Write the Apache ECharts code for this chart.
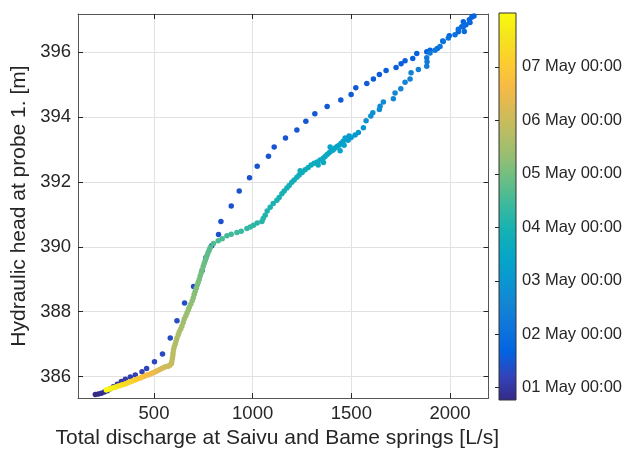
<!DOCTYPE html>
<html>
<head>
<meta charset="utf-8">
<script src="https://cdn.jsdelivr.net/npm/echarts@6/dist/echarts.min.js"></script>
<style>
  html, body { margin: 0; padding: 0; background: #ffffff; }
  #chart { width: 637px; height: 454px; }
</style>
</head>
<body>
<div id="chart"></div>
<script>
// Spring discharge [L/s], hydraulic head [m] and time [h after 01 May 00:00]
// Rising limb of the flood event
const risingQ = [202.9, 218.0, 233.2, 248.4, 263.6, 278.8, 294.0, 314.2, 334.5, 354.7, 380.0, 405.4, 439.3, 462.6, 502.6, 543.1,
  582.5, 616.5, 654.9, 700.5, 744.5, 763.3, 792.6, 827.1, 839.2, 891.4, 931.9, 984.0, 1023.0, 1080.2, 1109.1, 1166.3, 1224.0,
  1269.5, 1315.1, 1377.4, 1446.7, 1498.9, 1522.6, 1578.3, 1611.8, 1642.1, 1676.1, 1726.7, 1752.0, 1772.2, 1811.2, 1831.5,
  1882.1, 1898.8, 1935.8, 1963.1, 1996.5, 2042.1, 2059.3, 2067.4, 2097.8, 2109.9, 2121.5];
const risingH = [385.45, 385.47, 385.49, 385.53, 385.57, 385.63, 385.69, 385.77, 385.85, 385.92, 385.99, 386.05, 386.15, 386.25, 386.46, 386.70,
  387.19, 387.72, 388.27, 388.78, 389.27, 389.67, 390.03, 390.38, 390.78, 391.26, 391.72, 392.13, 392.48, 392.79, 393.07, 393.35, 393.60,
  393.87, 394.10, 394.32, 394.52, 394.69, 394.90, 395.03, 395.17, 395.31, 395.43, 395.52, 395.64, 395.73, 395.80, 395.95,
  396.01, 396.05, 396.11, 396.34, 396.50, 396.62, 396.78, 396.93, 396.99, 397.07, 397.11];
const risingT = [-5.5, -5, -4.5, -4, -3, -2, -1, 0, 1, 2, 3, 4, 5, 6, 6.5, 7,
  8, 8.25, 8.5, 8.75, 9, 9.25, 9.5, 9.75, 10, 10.25, 10.5, 10.75, 11, 11.25, 11.5, 11.75, 12,
  12.25, 12.5, 12.75, 13, 13.25, 13.5, 13.75, 14, 14.25, 14.5, 14.75, 15, 15.25, 15.5, 15.75,
  16, 16.25, 16.5, 16.75, 17, 17.25, 17.5, 17.75, 18, 18.25, 18.5];

// Recession limb, from the peak back to base flow
const recessionQ = [2101.3, 2081.0, 2067.4, 2072.4, 2042.1, 2025.4, 1991.4, 1966.1, 1949.4, 1924.1, 1898.8, 1882.1, 1883.6, 1882.1,
  1839.6, 1802.6, 1797.6, 1772.2, 1750.5, 1721.6, 1713.0, 1662.4, 1645.7, 1642.1, 1608.7, 1598.6, 1574.8, 1561.1, 1535.8, 1519.1,
  1498.9, 1477.1,
  1488.7, 1483.7, 1468.5, 1458.4, 1448.2, 1438.1, 1428.0, 1463.4, 1443.2, 1392.5,
  1417.9, 1407.7, 1397.6, 1387.5, 1377.4, 1367.2, 1357.1, 1358.6, 1341.9, 1326.7, 1331.8, 1311.5, 1296.4, 1281.2, 1266.0, 1250.8,
  1240.7, 1235.6, 1224.0, 1210.3, 1198.6, 1185.0, 1173.3, 1159.7, 1148.0, 1134.4, 1122.7, 1104.0, 1088.8, 1073.6, 1063.5, 1053.4,
  1046.8, 1023.0, 1004.3, 987.5, 970.8, 942.0, 920.2, 891.4, 869.6, 845.8, 825.5, 801.7,
  785.0, 780.0, 774.9, 769.9, 764.8, 759.7, 754.7, 749.6, 744.5, 739.5, 734.4, 729.4, 724.3, 719.2, 714.2, 709.1, 704.0, 699.0,
  693.9, 686.3, 678.7, 673.7, 667.1, 661.0, 653.4, 648.4, 641.8, 635.7, 628.1, 623.0, 616.5, 611.9, 607.9, 602.8, 599.2, 596.7,
  595.2, 592.7, 590.1,
  587.6, 580.0, 572.4, 562.3, 552.2, 542.0, 531.9, 521.8, 511.7, 501.5, 491.4, 481.3, 471.2, 461.0, 450.9, 440.8, 430.7, 420.5,
  410.4, 400.3, 390.2, 380.0, 369.9, 359.8, 349.7, 339.5, 329.4, 319.3, 309.2, 299.0, 288.9, 278.8, 268.7, 258.5];
const recessionH = [396.91, 396.84, 396.78, 396.63, 396.70, 396.53, 396.43, 396.32, 396.17, 396.05, 395.97, 395.82, 395.70, 395.56,
  395.46, 395.36, 395.17, 395.07, 394.87, 394.74, 394.56, 394.46, 394.33, 394.23, 394.13, 394.03, 393.88, 393.67, 393.52, 393.44,
  393.37, 393.32,
  393.41, 393.28, 393.35, 393.25, 393.19, 393.13, 393.09, 393.13, 392.96, 393.07,
  393.04, 392.98, 392.95, 392.90, 392.84, 392.78, 392.73, 392.60, 392.67, 392.61, 392.52, 392.57, 392.52, 392.44, 392.37, 392.29,
  392.34, 392.21, 392.14, 392.06, 391.99, 391.89, 391.81, 391.72, 391.63, 391.52, 391.43, 391.33, 391.22, 391.10, 390.97, 390.87,
  390.78, 390.73, 390.66, 390.61, 390.56, 390.48, 390.44, 390.39, 390.34, 390.25, 390.19, 390.10,
  389.98, 389.90, 389.83, 389.75, 389.67, 389.58, 389.49, 389.40, 389.29, 389.20, 389.11, 389.00, 388.91, 388.82, 388.72, 388.63, 388.54, 388.43,
  388.34, 388.23, 388.14, 388.05, 387.96, 387.87, 387.78, 387.67, 387.56, 387.47, 387.38, 387.29, 387.19, 387.10, 387.01, 386.92, 386.83, 386.73,
  386.64, 386.55, 386.46,
  386.40, 386.35, 386.32, 386.31, 386.29, 386.26, 386.23, 386.20, 386.17, 386.14, 386.11, 386.08, 386.06, 386.04, 386.01, 385.99, 385.96, 385.94,
  385.91, 385.89, 385.87, 385.84, 385.82, 385.79, 385.77, 385.75, 385.73, 385.71, 385.69, 385.67, 385.65, 385.63, 385.61, 385.59];
const recessionT = [19.5, 20.5, 21.5, 22.5, 23.5, 24.5, 25.5, 26.5, 27.5, 28.5, 29.5, 30.5, 31.5, 32.5,
  33.5, 34.5, 35.5, 36.5, 37.5, 38.5, 39.5, 40.5, 41.5, 42.5, 43.5, 44.5, 45.5, 46.5, 47.5, 48.5,
  49.5, 50.5,
  51.5, 52.5, 53.5, 54.5, 55.5, 56, 56.5, 57, 57.5, 58.5,
  59.5, 60, 60.5, 61, 61.5, 62, 62.5, 63, 63.5, 64, 64.2, 64.5, 65, 65.5, 66, 66.5,
  66.8, 67, 67.5, 68, 68.5, 69, 69.5, 70, 70.5, 71, 71.5, 72, 72.5, 73.5, 74.5, 75.5,
  76.5, 77.5, 78.5, 79.5, 80.5, 81.5, 82.5, 83.5, 84.5, 85.5, 86.5, 87.5,
  88.5, 89.3, 90, 90.8, 91.5, 92.3, 93, 93.8, 94.5, 95.3, 96, 96.8, 97.5, 98.3, 99, 99.8, 100.5, 101.3,
  102, 102.8, 103.5, 104.3, 105, 105.8, 106.5, 107.3, 108, 108.8, 109.5, 110.3, 111, 111.8, 112.5, 113.3, 114, 114.8,
  115.5, 116.3, 117,
  118, 119, 120, 121, 122, 123.5, 125, 126.5, 128, 129.5, 131, 132.5, 134, 135.5, 137, 138.5, 140, 141.5,
  143, 144.5, 146, 147.5, 149, 150.5, 152, 153.5, 155, 156.5, 158, 159.5, 161, 163, 165, 167];

// Axis ticks and colour-bar labels
const qTicks = [500, 1000, 1500, 2000];
const hTicks = [386, 388, 390, 392, 394, 396];
const dayTicks = [0, 24, 48, 72, 96, 120, 144];
const dayLabels = ['01 May 00:00', '02 May 00:00', '03 May 00:00', '04 May 00:00', '05 May 00:00', '06 May 00:00', '07 May 00:00'];
const timeRange = [-5.5, 168.2];

// parula colour map
const parula = ['#352a87', '#3243ba', '#0363e1', '#0d75dc', '#1485d4', '#0998d1', '#06a7c6', '#15b1b4', '#38b99e',
  '#65be86', '#92bf73', '#b7bd64', '#d9ba56', '#f8bb44', '#fcce2e', '#f5e41d', '#f9fb0e'];

const points = [];
risingQ.forEach((q, i) => points.push([q, risingH[i], risingT[i]]));
recessionQ.forEach((q, i) => points.push([q, recessionH[i], recessionT[i]]));

const FONT = "'Liberation Sans', Arial, Helvetica, sans-serif";
const INK = '#262626';
const FRAME = '#555555';

const chart = echarts.init(document.getElementById('chart'), null, { renderer: 'canvas' });

const gradientStops = parula.map((c, i) => ({ offset: i / (parula.length - 1), color: c }));

chart.setOption({
  animation: false,
  backgroundColor: '#ffffff',
  textStyle: { fontFamily: FONT },
  grid: [
    { left: 78, top: 14, width: 410.5, height: 386.5, show: false },
    { left: 499, top: 13, width: 17, height: 387, show: false }
  ],
  visualMap: {
    type: 'continuous',
    show: false,
    dimension: 2,
    seriesIndex: 0,
    min: timeRange[0],
    max: timeRange[1],
    inRange: { color: parula }
  },
  xAxis: [
    {
      gridIndex: 0, type: 'value', position: 'bottom', min: 115, max: 2195,
      axisLine: { show: true, onZero: false, lineStyle: { color: FRAME, width: 1 } },
      axisTick: { show: true, inside: true, length: 5, customValues: qTicks, lineStyle: { color: INK } },
      axisLabel: { customValues: qTicks, color: INK, fontSize: 18.5, margin: 6, fontFamily: FONT, formatter: v => String(v) },
      splitLine: { show: true, lineStyle: { color: '#e1e1e1', width: 1 } },
      name: 'Total discharge at Saivu and Bame springs [L/s]',
      nameLocation: 'middle', nameGap: 27,
      nameTextStyle: { color: INK, fontSize: 21, fontFamily: FONT, padding: [0, 12, 0, 0] }
    },
    {
      gridIndex: 0, type: 'value', position: 'top', min: 115, max: 2195,
      axisLine: { show: true, onZero: false, lineStyle: { color: FRAME, width: 1 } },
      axisTick: { show: true, inside: true, length: 5, customValues: qTicks, lineStyle: { color: INK } },
      axisLabel: { show: false },
      splitLine: { show: false }
    },
    {
      gridIndex: 1, type: 'value', min: 0, max: 1, show: false
    }
  ],
  yAxis: [
    {
      gridIndex: 0, type: 'value', position: 'left', min: 385.34, max: 397.17,
      axisLine: { show: true, onZero: false, lineStyle: { color: FRAME, width: 1 } },
      axisTick: { show: true, inside: true, length: 5, customValues: hTicks, lineStyle: { color: INK } },
      axisLabel: { customValues: hTicks, color: INK, fontSize: 18.5, margin: 7, fontFamily: FONT, formatter: v => String(v) },
      splitLine: { show: true, lineStyle: { color: '#e1e1e1', width: 1 } },
      name: 'Hydraulic head at probe 1. [m]',
      nameLocation: 'middle', nameGap: 41, nameRotate: 90,
      nameTextStyle: { color: INK, fontSize: 21, fontFamily: FONT }
    },
    {
      gridIndex: 0, type: 'value', position: 'right', min: 385.34, max: 397.17,
      axisLine: { show: true, onZero: false, lineStyle: { color: FRAME, width: 1 } },
      axisTick: { show: true, inside: true, length: 5, customValues: hTicks, lineStyle: { color: INK } },
      axisLabel: { show: false },
      splitLine: { show: false }
    },
    {
      gridIndex: 1, type: 'value', position: 'right', min: timeRange[0], max: timeRange[1], z: 10,
      axisLine: { show: false },
      axisTick: { show: true, inside: true, length: 4, customValues: dayTicks, lineStyle: { color: INK } },
      axisLabel: {
        customValues: dayTicks, color: INK, fontSize: 16.5, margin: 6, fontFamily: FONT,
        formatter: v => dayLabels[dayTicks.indexOf(Math.round(v))] || ''
      },
      splitLine: { show: false }
    }
  ],
  series: [
    {
      type: 'scatter',
      xAxisIndex: 0, yAxisIndex: 0,
      symbol: 'circle', symbolSize: 5.5,
      itemStyle: { opacity: 1 },
      data: points,
      z: 3
    },
    {
      // colour bar
      type: 'custom',
      xAxisIndex: 2, yAxisIndex: 2,
      z: 1,
      silent: true,
      data: [[0, timeRange[0], 1, timeRange[1]]],
      renderItem: (params, api) => {
        const p0 = api.coord([api.value(0), api.value(1)]);
        const p1 = api.coord([api.value(2), api.value(3)]);
        return {
          type: 'rect',
          shape: { x: p0[0], y: p1[1], width: p1[0] - p0[0], height: p0[1] - p1[1] },
          style: {
            fill: new echarts.graphic.LinearGradient(0, 1, 0, 0, gradientStops),
            stroke: '#333333', lineWidth: 1
          }
        };
      }
    }
  ]
});
</script>
</body>
</html>
